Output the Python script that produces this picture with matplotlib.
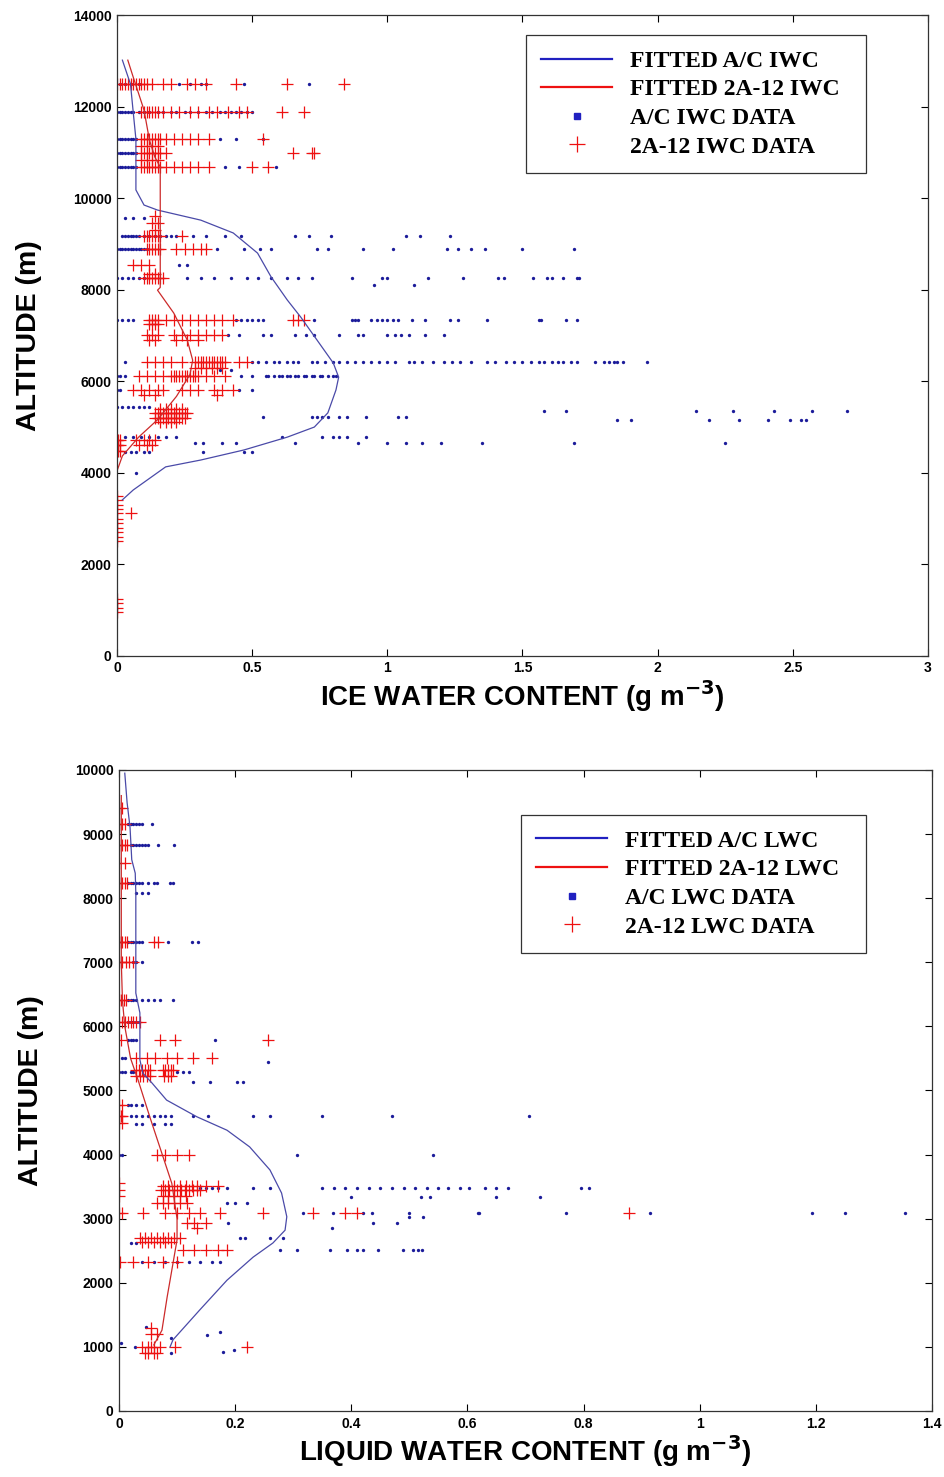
import matplotlib
matplotlib.use("Agg")
import matplotlib.pyplot as plt
from matplotlib.lines import Line2D

OUTPUT_FILE = "out.png"

# ---- Ice water content (top panel) ----
# each row: (altitude m, [water content g/m3, ...])
IWC_FIT_AC_X = [0.02, 0.05, 0.06, 0.07, 0.07, 0.07, 0.10, 0.15, 0.31, 0.43, 0.52, 0.57,
                0.63, 0.68, 0.74, 0.80, 0.82, 0.81, 0.78, 0.73, 0.63, 0.47, 0.31, 0.18,
                0.06, 0.02]
IWC_FIT_AC_ALT = [13015, 12490, 11880, 11290, 10680, 10180, 9850, 9740, 9520, 9240, 8800,
                  8280, 7775, 7400, 6900, 6400, 6090, 5810, 5310, 5000, 4780, 4500, 4280,
                  4130, 3625, 3410]

IWC_FIT_2A12_X = [0.04, 0.06, 0.10, 0.12, 0.14, 0.16, 0.16, 0.15, 0.21, 0.26, 0.28,
                  0.27, 0.22, 0.15, 0.08, 0.02, 0.0]
IWC_FIT_2A12_ALT = [13015, 12645, 11925, 11270, 10900, 10680, 8050, 7990, 7490, 6900,
                    6460, 6150, 5670, 5160, 4780, 4370, 4040]

IWC_AC_ROWS = [
    (12500, [0.01, 0.03, 0.05, 0.08, 0.23, 0.27, 0.31, 0.33, 0.47, 0.71]),
    (11880, [0.0, 0.01, 0.02, 0.03, 0.04, 0.05, 0.06, 0.08, 0.10, 0.12, 0.15, 0.17, 0.20,
             0.22, 0.25, 0.27, 0.30, 0.33, 0.35, 0.38, 0.40, 0.42, 0.44, 0.46, 0.48, 0.50]),
    (11300, [0.0, 0.01, 0.02, 0.03, 0.04, 0.05, 0.06, 0.07, 0.38, 0.44, 0.54]),
    (10980, [0.0, 0.01, 0.02, 0.03, 0.04, 0.05, 0.06, 0.07]),
    (10680, [0.0, 0.01, 0.02, 0.03, 0.04, 0.05, 0.06, 0.07, 0.40, 0.45, 0.59]),
    (9560, [0.03, 0.06, 0.10]),
    (9170, [0.02, 0.03, 0.04, 0.05, 0.06, 0.07, 0.08, 0.10, 0.12, 0.14, 0.16, 0.18, 0.20,
            0.22, 0.28, 0.33, 0.40, 0.46, 0.66, 0.71, 0.79, 1.07, 1.12, 1.23]),
    (8880, [0.0, 0.01, 0.02, 0.03, 0.04, 0.05, 0.06, 0.07, 0.08, 0.09, 0.10, 0.11, 0.37,
            0.47, 0.53, 0.57, 0.74, 0.78, 0.91, 1.02, 1.22, 1.26, 1.31, 1.36, 1.50, 1.69]),
    (8540, [0.23, 0.26]),
    (8255, [0.0, 0.02, 0.04, 0.06, 0.08, 0.10, 0.26, 0.31, 0.36, 0.42, 0.48, 0.52, 0.57,
            0.63, 0.67, 0.72, 0.87, 0.98, 1.00, 1.15, 1.28, 1.41, 1.43, 1.54, 1.59, 1.61,
            1.65, 1.70, 1.71]),
    (8100, [0.95, 1.10]),
    (7340, [0.0, 0.02, 0.04, 0.06, 0.44, 0.46, 0.48, 0.50, 0.52, 0.54, 0.73, 0.87, 0.88,
            0.89, 0.94, 0.96, 0.98, 1.00, 1.02, 1.04, 1.09, 1.14, 1.23, 1.26, 1.37, 1.56,
            1.57, 1.66, 1.70]),
    (7010, [0.41, 0.45, 0.54, 0.57, 0.66, 0.70, 0.73, 0.82, 0.89, 0.91, 1.00, 1.03, 1.05,
            1.08, 1.14, 1.21]),
    (6420, [0.03, 0.50, 0.52, 0.55, 0.58, 0.60, 0.63, 0.65, 0.67, 0.72, 0.74, 0.77, 0.80,
            0.82, 0.85, 0.88, 0.91, 0.94, 0.97, 1.00, 1.03, 1.08, 1.10, 1.13, 1.17, 1.21,
            1.24, 1.27, 1.31, 1.37, 1.40, 1.44, 1.47, 1.50, 1.53, 1.56, 1.58, 1.61, 1.63,
            1.65, 1.68, 1.70, 1.77, 1.80, 1.82, 1.84, 1.85, 1.87, 1.96]),
    (6250, [0.38, 0.42]),
    (6110, [0.0, 0.01, 0.03, 0.46, 0.50, 0.55, 0.56, 0.58, 0.60, 0.61, 0.63, 0.64, 0.66,
            0.67, 0.69, 0.70, 0.72, 0.73, 0.75, 0.76, 0.78, 0.80, 0.81]),
    (5810, [0.0, 0.01, 0.45, 0.50]),
    (5440, [0.0, 0.02, 0.04, 0.06, 0.08, 0.10, 0.12]),
    (5350, [1.58, 1.66, 2.14, 2.28, 2.43, 2.57, 2.70]),
    (5220, [0.54, 0.72, 0.74, 0.76, 0.78, 0.82, 0.85, 0.92, 1.04, 1.07]),
    (5150, [1.85, 1.90, 2.19, 2.30, 2.41, 2.49, 2.53, 2.55]),
    (4780, [0.03, 0.06, 0.09, 0.12, 0.15, 0.18, 0.22, 0.61, 0.76, 0.80, 0.82, 0.85, 0.92]),
    (4650, [0.29, 0.32, 0.39, 0.44, 0.66, 0.89, 1.00, 1.07, 1.13, 1.20, 1.35, 1.69, 2.25]),
    (4455, [0.03, 0.05, 0.07, 0.10, 0.12, 0.32, 0.47, 0.50]),
    (4000, [0.07]),
]

IWC_2A12_ROWS = [
    (12500, [0.0, 0.01, 0.02, 0.03, 0.04, 0.05, 0.06, 0.07, 0.08, 0.09, 0.10, 0.11, 0.13,
             0.17, 0.20, 0.26, 0.29, 0.33, 0.44, 0.63, 0.84]),
    (11880, [0.09, 0.10, 0.11, 0.12, 0.13, 0.14, 0.15, 0.17, 0.20, 0.23, 0.27, 0.30, 0.34,
             0.37, 0.41, 0.45, 0.48, 0.61, 0.69]),
    (11300, [0.09, 0.10, 0.11, 0.12, 0.13, 0.14, 0.15, 0.16, 0.18, 0.21, 0.24, 0.27, 0.30,
             0.34, 0.54]),
    (11150, [0.09, 0.11, 0.13, 0.15]),
    (10980, [0.09, 0.10, 0.11, 0.12, 0.13, 0.14, 0.15, 0.16, 0.18, 0.65, 0.72, 0.73]),
    (10830, [0.09, 0.11, 0.13, 0.15]),
    (10680, [0.09, 0.10, 0.11, 0.12, 0.13, 0.14, 0.15, 0.16, 0.18, 0.21, 0.24, 0.27, 0.30,
             0.34, 0.50, 0.56]),
    (9600, [0.14]),
    (9450, [0.13, 0.15]),
    (9300, [0.14]),
    (9170, [0.10, 0.11, 0.12, 0.13, 0.14, 0.15, 0.16, 0.24]),
    (8880, [0.11, 0.12, 0.13, 0.14, 0.15, 0.16, 0.22, 0.25, 0.28, 0.31, 0.33]),
    (8540, [0.06, 0.09, 0.12]),
    (8350, [0.12, 0.14]),
    (8255, [0.10, 0.11, 0.12, 0.13, 0.14, 0.15, 0.16, 0.17]),
    (7340, [0.12, 0.13, 0.14, 0.15, 0.18, 0.21, 0.24, 0.27, 0.30, 0.33, 0.36, 0.39, 0.43,
            0.65, 0.67, 0.69]),
    (7250, [0.12, 0.13, 0.14, 0.15]),
    (7010, [0.11, 0.13, 0.15, 0.21, 0.24, 0.27, 0.30, 0.33, 0.36, 0.39]),
    (6900, [0.12, 0.14, 0.22, 0.26, 0.30]),
    (6420, [0.11, 0.14, 0.17, 0.20, 0.24, 0.29, 0.30, 0.31, 0.32, 0.33, 0.34, 0.35, 0.36,
            0.37, 0.38, 0.39, 0.40, 0.45, 0.48]),
    (6300, [0.29, 0.31, 0.33, 0.35, 0.37, 0.39]),
    (6110, [0.08, 0.11, 0.14, 0.17, 0.20, 0.21, 0.22, 0.23, 0.24, 0.25, 0.26, 0.27, 0.28,
            0.29, 0.30, 0.33, 0.36, 0.40]),
    (5810, [0.06, 0.09, 0.12, 0.15, 0.17, 0.24, 0.27, 0.30, 0.36, 0.39, 0.43]),
    (5700, [0.10, 0.14, 0.37]),
    (5400, [0.16, 0.18, 0.20, 0.22, 0.24]),
    (5300, [0.14, 0.15, 0.16, 0.17, 0.18, 0.19, 0.20, 0.21, 0.22, 0.23, 0.24, 0.25, 0.26]),
    (5200, [0.14, 0.15, 0.16, 0.17, 0.18, 0.19, 0.20, 0.21, 0.22, 0.23, 0.24, 0.25]),
    (5100, [0.16, 0.18, 0.20, 0.22]),
    (4720, [0.0, 0.005, 0.01, 0.07, 0.10, 0.12, 0.14]),
    (4600, [0.0, 0.005, 0.01, 0.08, 0.11, 0.13]),
    (4470, [0.0, 0.005, 0.01]),
    (3500, [0.0]), (3400, [0.0]), (3300, [0.0]), (3200, [0.0]), (3120, [0.0, 0.05]),
    (3000, [0.0]), (2900, [0.0]), (2800, [0.0]), (2700, [0.0]), (2600, [0.0]),
    (2500, [0.0]),
    (1250, [0.0]), (1150, [0.0]), (1050, [0.0]), (950, [0.0]),
]

# ---- Liquid water content (bottom panel) ----
LWC_FIT_AC_X = [0.010, 0.014, 0.019, 0.022, 0.028, 0.029, 0.029, 0.036, 0.036, 0.041,
                0.057, 0.082, 0.134, 0.186, 0.225, 0.260, 0.280, 0.289, 0.286, 0.265,
                0.231, 0.186, 0.139, 0.093, 0.088]
LWC_FIT_AC_ALT = [9950, 9490, 9110, 8600, 8390, 8080, 6520, 6210, 5480, 5270, 5115, 4850,
                  4590, 4380, 4120, 3760, 3400, 3030, 2820, 2620, 2400, 2040, 1575, 1110,
                  1000]

LWC_FIT_2A12_X = [0.004, 0.004, 0.006, 0.010, 0.020, 0.033, 0.053, 0.091, 0.100, 0.100,
                  0.088, 0.083, 0.074, 0.060]
LWC_FIT_2A12_ALT = [9600, 7000, 6400, 6000, 5500, 5160, 4590, 3550, 3000, 2670, 2040,
                    1780, 1260, 1030]

LWC_AC_ROWS = [
    (9160, [0.015, 0.02, 0.025, 0.03, 0.035, 0.04, 0.057]),
    (8830, [0.02, 0.025, 0.03, 0.035, 0.04, 0.045, 0.05, 0.067, 0.095]),
    (8240, [0.015, 0.02, 0.025, 0.03, 0.035, 0.04, 0.05, 0.06, 0.065, 0.088, 0.093]),
    (8080, [0.03, 0.04, 0.05]),
    (7320, [0.015, 0.02, 0.025, 0.03, 0.035, 0.04, 0.085, 0.125, 0.136]),
    (7000, [0.024, 0.03, 0.04]),
    (6410, [0.015, 0.02, 0.025, 0.03, 0.04, 0.05, 0.06, 0.07, 0.093]),
    (6070, [0.015, 0.02, 0.025, 0.03, 0.035]),
    (5790, [0.015, 0.02, 0.025, 0.03, 0.165]),
    (5500, [0.005, 0.01]),
    (5450, [0.257]),
    (5290, [0.0, 0.005, 0.01, 0.02, 0.025, 0.10, 0.11, 0.12]),
    (5130, [0.128, 0.157, 0.203, 0.214]),
    (4770, [0.015, 0.02, 0.03, 0.04]),
    (4600, [0.02, 0.03, 0.04, 0.05, 0.06, 0.07, 0.08, 0.09, 0.128, 0.153, 0.231, 0.26,
            0.35, 0.47, 0.706]),
    (4480, [0.03, 0.04, 0.06, 0.08, 0.09]),
    (3990, [0.0, 0.005, 0.306, 0.54]),
    (3480, [0.14, 0.15, 0.16, 0.17, 0.186, 0.23, 0.26, 0.35, 0.37, 0.39, 0.41, 0.43,
            0.45, 0.47, 0.49, 0.51, 0.53, 0.55, 0.566, 0.587, 0.603, 0.63, 0.65, 0.67,
            0.795, 0.81]),
    (3340, [0.40, 0.52, 0.535, 0.65, 0.725]),
    (3240, [0.186, 0.20, 0.22]),
    (3090, [0.317, 0.369, 0.42, 0.436, 0.50, 0.618, 0.62, 0.77, 0.914, 1.193, 1.25,
            1.354]),
    (3020, [0.50, 0.523]),
    (2930, [0.188, 0.437, 0.478]),
    (2850, [0.367]),
    (2700, [0.208, 0.217, 0.26, 0.282]),
    (2620, [0.02, 0.03]),
    (2510, [0.277, 0.306, 0.363, 0.393, 0.41, 0.42, 0.446, 0.489, 0.506, 0.515, 0.522]),
    (2325, [0.04, 0.06, 0.08, 0.10, 0.12, 0.14, 0.16, 0.174]),
    (1310, [0.046]),
    (1230, [0.174]),
    (1190, [0.152]),
    (1140, [0.09]),
    (1060, [0.004]),
    (1000, [0.027]),
    (950, [0.198]),
    (920, [0.179]),
    (900, [0.09]),
]

LWC_2A12_ROWS = [
    (9410, [0.0, 0.005]),
    (9160, [0.0, 0.005, 0.01]),
    (8830, [0.0, 0.005, 0.01, 0.014]),
    (8550, [0.0, 0.01]),
    (8240, [0.0, 0.005, 0.01, 0.014]),
    (7320, [0.0, 0.003, 0.006, 0.01, 0.014, 0.06, 0.067]),
    (7000, [0.0, 0.006, 0.012, 0.018, 0.024]),
    (6410, [0.0, 0.004, 0.008, 0.012]),
    (6070, [0.0, 0.005, 0.01, 0.015, 0.02, 0.025, 0.03, 0.036]),
    (5790, [0.003, 0.07, 0.096, 0.257]),
    (5500, [0.03, 0.048, 0.062, 0.083, 0.10, 0.128, 0.16]),
    (5320, [0.03, 0.035, 0.04, 0.045, 0.05, 0.053, 0.076, 0.08, 0.085, 0.09, 0.093]),
    (5230, [0.03, 0.036, 0.042, 0.048, 0.053, 0.078, 0.084, 0.09]),
    (4770, [0.0, 0.006]),
    (4600, [0.0, 0.003, 0.006]),
    (4500, [0.0, 0.006]),
    (3990, [0.065, 0.08, 0.10, 0.12]),
    (3550, [0.0]),
    (3510, [0.075, 0.085, 0.095, 0.105, 0.115, 0.125, 0.135, 0.15, 0.17]),
    (3450, [0.0, 0.073, 0.08, 0.087, 0.094, 0.10, 0.107, 0.114, 0.121, 0.128, 0.135,
            0.14]),
    (3350, [0.0, 0.075, 0.085, 0.095, 0.105, 0.115]),
    (3240, [0.065, 0.075, 0.085, 0.095, 0.105, 0.117]),
    (3090, [0.0, 0.005, 0.042, 0.08, 0.10, 0.12, 0.14, 0.174, 0.248, 0.334, 0.39, 0.41,
            0.878]),
    (2930, [0.117, 0.13, 0.15]),
    (2850, [0.135]),
    (2700, [0.036, 0.045, 0.055, 0.065, 0.075, 0.085, 0.095, 0.105]),
    (2640, [0.04, 0.05, 0.06, 0.07, 0.08, 0.09]),
    (2510, [0.11, 0.13, 0.15, 0.17, 0.186]),
    (2325, [0.002, 0.025, 0.05, 0.075, 0.10]),
    (1300, [0.055]),
    (1200, [0.055, 0.065]),
    (1000, [0.04, 0.05, 0.055, 0.06, 0.07, 0.096, 0.22]),
    (900, [0.045, 0.05, 0.06, 0.065]),
]

BLUE_DOT = "#1c1c9a"
BLUE_FIT = "#4a4aa8"
RED = "#ee1111"


def flatten(rows):
    xs, ys = [], []
    for alt, vals in rows:
        for v in vals:
            xs.append(v)
            ys.append(alt)
    return xs, ys


def style_axes(ax):
    ax.tick_params(direction="in", top=True, right=True, length=5, width=0.8,
                   labelsize=10, pad=4)
    for lab in ax.get_xticklabels() + ax.get_yticklabels():
        lab.set_family("Liberation Sans")
        lab.set_fontweight("bold")
    for sp in ax.spines.values():
        sp.set_color("#333333")
        sp.set_linewidth(0.9)


def add_legend(ax, tag, anchor):
    handles = [
        Line2D([], [], color="#2020c0", lw=1.6),
        Line2D([], [], color=RED, lw=1.6),
        Line2D([], [], color="#2020c0", marker="s", markersize=5, ls="none"),
        Line2D([], [], color=RED, marker="+", markersize=12, mew=0.9, ls="none"),
    ]
    # trailing space keeps the right margin of the box wider than the left
    labels = [f"FITTED A/C {tag}  ", f"FITTED 2A-12 {tag}  ",
              f"A/C {tag} DATA  ", f"2A-12 {tag} DATA  "]
    leg = ax.legend(handles, labels, loc="upper right", bbox_to_anchor=anchor,
                    prop={"family": "Liberation Serif", "weight": "bold", "size": 17},
                    handlelength=3.0, handletextpad=0.75, labelspacing=0.3,
                    borderpad=0.65, fancybox=False, framealpha=1, borderaxespad=0)
    leg.get_frame().set_edgecolor("#333333")
    leg.get_frame().set_linewidth(0.9)


fig = plt.figure(figsize=(9.45, 14.77), dpi=100)

# top panel: ice water content
ax1 = fig.add_axes([0.1238, 0.5559, 0.8582, 0.4339])
x, y = flatten(IWC_AC_ROWS)
ax1.plot(x, y, "o", color=BLUE_DOT, markersize=2.4, mew=0)
x, y = flatten(IWC_2A12_ROWS)
ax1.plot(x, y, "+", color=RED, markersize=9, mew=0.9)
ax1.plot(IWC_FIT_AC_X, IWC_FIT_AC_ALT, color=BLUE_FIT, lw=0.9)
ax1.plot(IWC_FIT_2A12_X, IWC_FIT_2A12_ALT, color="#cc2a2a", lw=0.9)
ax1.set_xlim(0, 3)
ax1.set_ylim(0, 14000)
ax1.set_xticks([0, 0.5, 1, 1.5, 2, 2.5, 3])
ax1.set_xticklabels(["0", "0.5", "1", "1.5", "2", "2.5", "3"])
ax1.set_yticks(range(0, 14001, 2000))
style_axes(ax1)
ax1.set_xlabel("ICE WATER CONTENT (g m$^{\\mathbf{-3}}$)", fontsize=20,
               fontweight="bold", family="Liberation Sans", labelpad=2)
ax1.set_ylabel("ALTITUDE (m)", fontsize=20.5, fontweight="bold",
               family="Liberation Sans", labelpad=22)
add_legend(ax1, "IWC", (0.924, 0.969))

# bottom panel: liquid water content
ax2 = fig.add_axes([0.1259, 0.0447, 0.8603, 0.4340])
x, y = flatten(LWC_AC_ROWS)
ax2.plot(x, y, "o", color=BLUE_DOT, markersize=2.4, mew=0)
x, y = flatten(LWC_2A12_ROWS)
ax2.plot(x, y, "+", color=RED, markersize=9, mew=0.9)
ax2.plot(LWC_FIT_AC_X, LWC_FIT_AC_ALT, color=BLUE_FIT, lw=0.9)
ax2.plot(LWC_FIT_2A12_X, LWC_FIT_2A12_ALT, color="#cc2a2a", lw=0.9)
ax2.set_xlim(0, 1.4)
ax2.set_ylim(0, 10000)
ax2.set_xticks([0, 0.2, 0.4, 0.6, 0.8, 1.0, 1.2, 1.4])
ax2.set_xticklabels(["0", "0.2", "0.4", "0.6", "0.8", "1", "1.2", "1.4"])
ax2.set_yticks(range(0, 10001, 1000))
style_axes(ax2)
ax2.set_xlabel("LIQUID WATER CONTENT (g m$^{\\mathbf{-3}}$)", fontsize=20,
               fontweight="bold", family="Liberation Sans", labelpad=2)
ax2.set_ylabel("ALTITUDE (m)", fontsize=20.5, fontweight="bold",
               family="Liberation Sans", labelpad=22)
add_legend(ax2, "LWC", (0.919, 0.930))

fig.savefig(OUTPUT_FILE, dpi=100)
